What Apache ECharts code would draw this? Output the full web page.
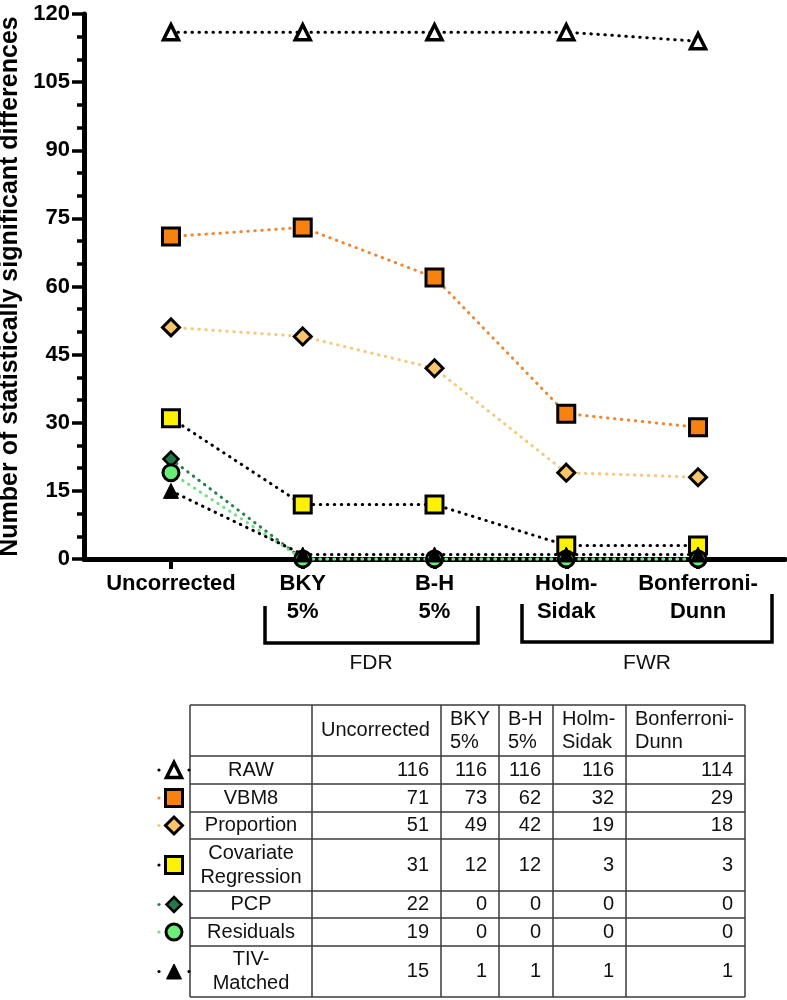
<!DOCTYPE html>
<html><head><meta charset="utf-8">
<script src="https://cdn.jsdelivr.net/npm/echarts@6/dist/echarts.min.js"></script>
<style>html,body{margin:0;padding:0;background:#fff}#c{width:787px;height:1000px}</style>
</head><body><div id="c"></div>
<script>
// ---- data ----
const categories = ['Uncorrected', 'BKY\n5%', 'B-H\n5%', 'Holm-\nSidak', 'Bonferroni-\nDunn'];
const seriesNames = ['RAW', 'VBM8', 'Proportion', 'Covariate\nRegression', 'PCP', 'Residuals', 'TIV-\nMatched'];
const raw = [116, 116, 116, 116, 114];
const vbm8 = [71, 73, 62, 32, 29];
const proportion = [51, 49, 42, 19, 18];
const covariate = [31, 12, 12, 3, 3];
const pcp = [22, 0, 0, 0, 0];
const residuals = [19, 0, 0, 0, 0];
const tivMatched = [15, 1, 1, 1, 1];
const groupLabels = ['FDR', 'FWR'];
const yMin = 0, yMax = 120, yStep = 15;

const allData = [raw, vbm8, proportion, covariate, pcp, residuals, tivMatched];

// ---- styles ----
const FONT = '"Liberation Sans", Arial, Helvetica, sans-serif';
const styles = [
  {symbol: 'triangle', size: 15, fill: '#ffffff', border: '#000', bw: 3.5, line: '#000000'},
  {symbol: 'rect', size: 17, fill: '#F7820F', border: '#000', bw: 3, line: '#EE8730'},
  {symbol: 'diamond', size: 17, fill: '#F9C46A', border: '#000', bw: 3, line: '#F7C77C'},
  {symbol: 'rect', size: 17, fill: '#FFF200', border: '#000', bw: 3, line: '#000000'},
  {symbol: 'diamond', size: 15, fill: '#237A48', border: '#000', bw: 2.5, line: '#2A7D4E'},
  {symbol: 'circle', size: 16, fill: '#6BEB78', border: '#000', bw: 3, line: '#72E07C'},
  {symbol: 'triangle', size: 15, fill: '#000000', border: '#000', bw: 1, line: '#000000'}
];

const series = allData.map((arr, si) => ({
  type: 'line',
  name: seriesNames[si],
  data: arr.map((v, i) => [i, v]),
  symbol: styles[si].symbol,
  symbolSize: styles[si].size,
  showAllSymbol: true,
  clip: false,
  z: 2 + si,
  itemStyle: {color: styles[si].fill, borderColor: styles[si].border, borderWidth: styles[si].bw, opacity: 1},
  lineStyle: {color: styles[si].line, width: 3, type: [0.5, 6.5], cap: 'round'},
  emphasis: {disabled: true},
  animation: false
}));

// ---- table (graphic) ----
const colX = [190, 312, 441, 499, 553, 626, 745];
const rowY = [705, 756, 784, 812, 839, 891, 918, 946, 997];
const tableFont = 20;
const g = [];
const lineStyleT = {stroke: '#3a3a3a', lineWidth: 1.5};
rowY.forEach(y => g.push({type: 'line', shape: {x1: colX[0], y1: y, x2: colX[colX.length - 1], y2: y}, style: lineStyleT, silent: true}));
colX.forEach(x => g.push({type: 'line', shape: {x1: x, y1: rowY[0], x2: x, y2: rowY[rowY.length - 1]}, style: lineStyleT, silent: true}));
// header
categories.forEach((c, ci) => {
  g.push({type: 'text', x: colX[ci + 1] + 9, y: (rowY[0] + rowY[1]) / 2,
    style: {text: c, font: tableFont + 'px ' + FONT, fill: '#111', align: 'left', verticalAlign: 'middle', lineHeight: 23}, silent: true});
});
// rows
seriesNames.forEach((n, si) => {
  const cy = (rowY[si + 1] + rowY[si + 2]) / 2;
  g.push({type: 'text', x: (colX[0] + colX[1]) / 2, y: cy,
    style: {text: n, font: tableFont + 'px ' + FONT, fill: '#111', align: 'center', verticalAlign: 'middle', lineHeight: 24}, silent: true});
  allData[si].forEach((v, ci) => {
    g.push({type: 'text', x: colX[ci + 2] - 12, y: cy,
      style: {text: String(v), font: tableFont + 'px ' + FONT, fill: '#111', align: 'right', verticalAlign: 'middle'}, silent: true});
  });
  // legend marker
  const s = styles[si];
  const mx = 174, h = s.size / 2;
  const st = {fill: s.fill, stroke: s.border, lineWidth: s.bw};
  g.push({type: 'circle', shape: {cx: 159, cy: cy, r: 1.6}, style: {fill: s.line}, silent: true});
  if (s.symbol === 'triangle') {
    g.push({type: 'circle', shape: {cx: 189, cy: cy, r: 1.6}, style: {fill: s.line}, silent: true});
    g.push({type: 'polygon', shape: {points: [[mx, cy - h], [mx + h, cy + h], [mx - h, cy + h]]}, style: st, silent: true});
  } else if (s.symbol === 'rect') {
    g.push({type: 'rect', shape: {x: mx - h, y: cy - h, width: s.size, height: s.size}, style: st, silent: true});
  } else if (s.symbol === 'diamond') {
    g.push({type: 'polygon', shape: {points: [[mx, cy - h], [mx + h, cy], [mx, cy + h], [mx - h, cy]]}, style: st, silent: true});
  } else {
    g.push({type: 'circle', shape: {cx: mx, cy: cy, r: h}, style: st, silent: true});
  }
});
// brackets
const br = {stroke: '#000', lineWidth: 3.5, fill: null};
g.push({type: 'polyline', shape: {points: [[265, 606], [265, 643], [478, 643], [478, 606]]}, style: br, silent: true});
g.push({type: 'polyline', shape: {points: [[522, 604], [522, 642], [772, 642], [772, 594]]}, style: br, silent: true});
g.push({type: 'text', x: 371, y: 663, style: {text: groupLabels[0], font: '21px ' + FONT, fill: '#111', align: 'center', verticalAlign: 'middle'}, silent: true});
g.push({type: 'text', x: 647, y: 663, style: {text: groupLabels[1], font: '21px ' + FONT, fill: '#111', align: 'center', verticalAlign: 'middle'}, silent: true});

const chart = echarts.init(document.getElementById('c'), null, {renderer: 'canvas'});
chart.setOption({
  animation: false,
  backgroundColor: '#ffffff',
  grid: {left: 84, right: 2, top: 14, bottom: 441, containLabel: false, outerBoundsMode: 'none'},
  xAxis: {
    type: 'value', min: -0.66, max: categories.length - 1 + 0.66,
    splitLine: {show: false},
    axisLine: {show: true, onZero: false, lineStyle: {color: '#000', width: 5}},
    axisTick: {show: true, customValues: categories.map((c, i) => i), length: 10, lineStyle: {color: '#000', width: 4}},
    axisLabel: {customValues: categories.map((c, i) => i), formatter: v => categories[Math.round(v)],
      fontFamily: FONT, fontWeight: 'bold', fontSize: 22, color: '#000', lineHeight: 28, margin: 11}
  },
  yAxis: {
    type: 'value', min: yMin, max: yMax, interval: yStep,
    name: 'Number of statistically significant differences',
    nameLocation: 'middle', nameGap: 53,
    nameTextStyle: {fontFamily: FONT, fontWeight: 'bold', fontSize: 25, color: '#000'},
    splitLine: {show: false},
    axisLine: {show: true, onZero: false, lineStyle: {color: '#000', width: 5}},
    axisTick: {show: true, length: 12, lineStyle: {color: '#000', width: 3.5}},
    minorTick: {show: true, splitNumber: 3, length: 7, lineStyle: {color: '#000', width: 3.5}},
    axisLabel: {fontFamily: FONT, fontWeight: 'bold', fontSize: 22, color: '#000', margin: 14}
  },
  series: series,
  graphic: g
});
</script></body></html>
